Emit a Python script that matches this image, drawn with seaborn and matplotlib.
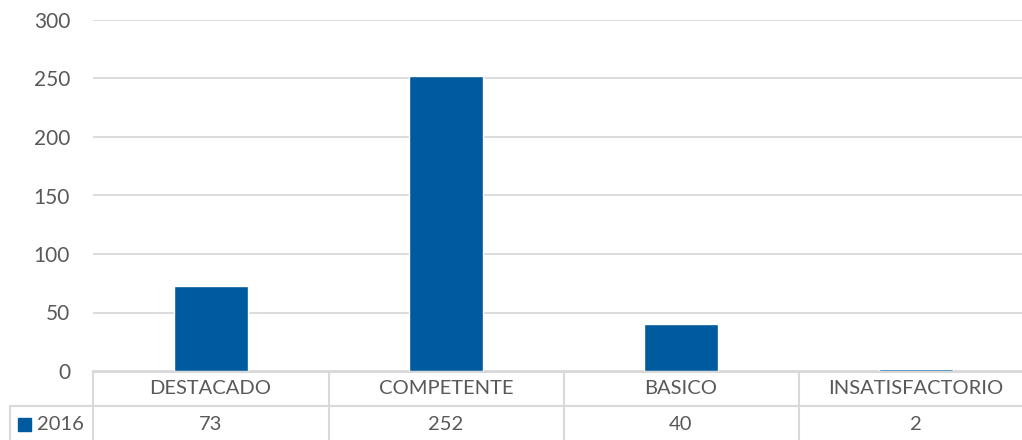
import matplotlib

matplotlib.use("Agg")

import matplotlib.pyplot as plt
import pandas as pd
import seaborn as sns
from matplotlib.lines import Line2D
from matplotlib.patches import Rectangle

categories = ["DESTACADO", "COMPETENTE", "BASICO", "INSATISFACTORIO"]
values_2016 = [73, 252, 40, 2]
series_name = "2016"
yticks = [0, 50, 100, 150, 200, 250, 300]

BAR = "#005A9E"
GRID = "#D9D9D9"
TEXT = "#595959"
W, H = 1022, 440


def fx(px):
    return px / W


def fy(py):
    return 1 - py / H


sns.set_theme(style="white")
plt.rcParams["font.family"] = ["Lato", "DejaVu Sans"]

fig = plt.figure(figsize=(W / 100, H / 100), dpi=100)
ax = fig.add_axes([fx(93), fy(371), fx(1022) - fx(93), fy(20) - fy(371)])

df = pd.DataFrame({"cat": categories, "val": values_2016})
sns.barplot(data=df, x="cat", y="val", color=BAR, width=0.315, saturation=1, ax=ax)

ax.set_xlim(-0.5, 3.45)
ax.set_ylim(0, 300)
ax.set_yticks(yticks)
ax.yaxis.grid(True, color=GRID, lw=1.3)
ax.set_axisbelow(True)
for s in ax.spines.values():
    s.set_visible(False)
ax.set_xlabel("")
ax.set_ylabel("")
ax.set_xticks([])
ax.tick_params(axis="y", length=0, pad=16.5, labelsize=15, labelcolor=TEXT)

# data table below the plot
lines = [
    ((93, 1022), (371.5, 371.5)),
    ((10, 1022), (406, 406)),
    ((10, 10), (406, 440)),
]
for bx in (93, 329, 564, 799):
    lines.append(((bx, bx), (371, 440)))
for xs, ys in lines:
    fig.add_artist(Line2D([fx(x) for x in xs], [fy(y) for y in ys], color=GRID, lw=1.5, zorder=0))

for i, (cat, v) in enumerate(zip(categories, values_2016)):
    cx = ax.transData.transform((i, 0))[0] / fig.bbox.width
    fig.text(cx, fy(389), cat, ha="center", va="center", fontsize=14.5, color=TEXT)
    fig.text(cx, fy(424), str(v), ha="center", va="center", fontsize=14.5, color=TEXT)

fig.add_artist(Rectangle((fx(18), fy(431)), fx(13), fy(418) - fy(431), color=BAR))
fig.text(fx(37), fy(424), series_name, ha="left", va="center", fontsize=14.5, color=TEXT)

fig.savefig("out.png", dpi=100)
